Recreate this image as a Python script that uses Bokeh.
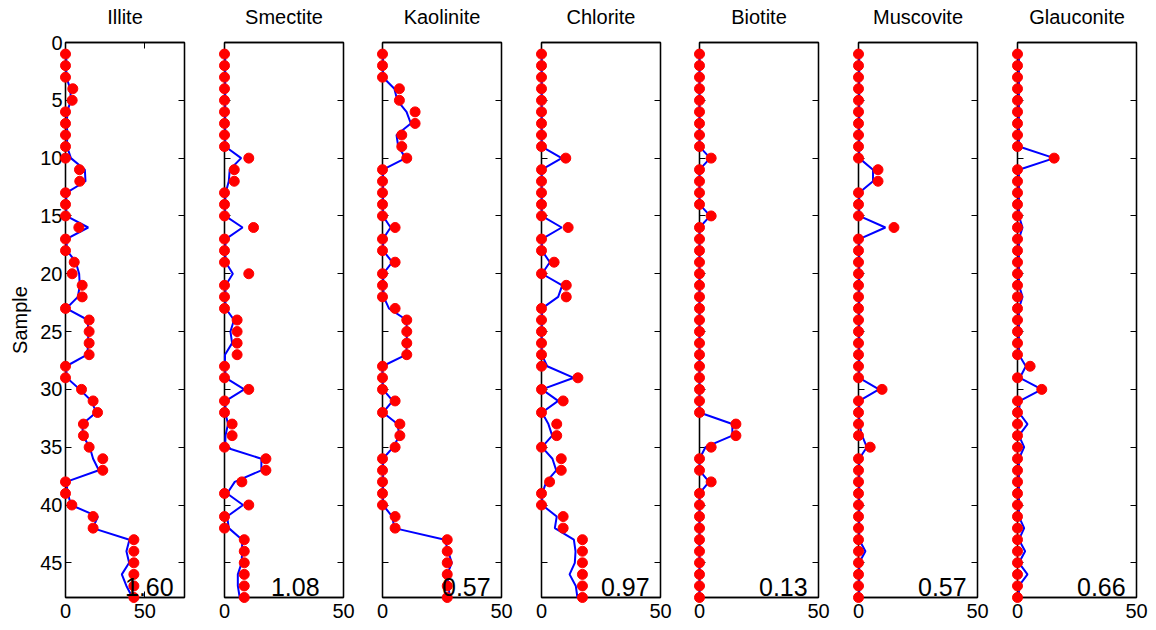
from bokeh.plotting import figure
from bokeh.layouts import row
from bokeh.models import Range1d, LinearAxis, FixedTicker
from bokeh.core.properties import value
from bokeh.embed import file_html
from bokeh.resources import INLINE

# ---------------- data ----------------
samples = list(range(1, 49))
minerals = ["Illite", "Smectite", "Kaolinite", "Chlorite", "Biotite", "Muscovite", "Glauconite"]
fit_stats = ["1.60", "1.08", "0.57", "0.97", "0.13", "0.57", "0.66"]
x_max = [75, 50, 50, 50, 50, 50, 50]
x_ticks = [0, 50]
y_ticks = [0, 5, 10, 15, 20, 25, 30, 35, 40, 45]

illite_obs = [0, 0, 0, 4.6, 4.2, 0, 0, 0, 0, 0,
              8.8, 9.0, 0, 0, 0, 8.4, 0, 0, 5.5, 4.2,
              10.5, 10.5, 0, 14.9, 14.9, 14.9, 14.9, 0, 0, 10.1,
              17.4, 20.2, 11.3, 11.3, 14.9, 23.5, 23.5, 0, 0, 4.0,
              17.4, 17.4, 43.1, 43.1, 43.1, 43.1, 43.1, 43.1]
illite_fit = [0.5, 0.5, 0.5, 3.0, 3.4, 1.0, 1.0, 1.0, 1.0, 3.4,
              12.2, 12.6, 0.5, 0.5, 0.5, 14.3, 0.5, 1.0, 6.5, 8.6,
              9.0, 7.8, 0.5, 14.1, 14.3, 14.3, 13.7, 0.4, 0.8, 9.0,
              16.4, 19.3, 10.7, 10.9, 15.3, 17.4, 21.0, 0.4, 1.5, 3.4,
              20.4, 17.2, 40.3, 38.4, 40.1, 35.5, 38.4, 42.2]

smectite_obs = [0, 0, 0, 0, 0, 0, 0, 0, 0, 10.2,
                4.1, 4.1, 0, 0, 0, 12.2, 0, 0, 0, 10.2,
                0, 0, 0, 5.3, 5.3, 5.3, 5.3, 0, 0, 10.2,
                0, 0, 3.2, 3.2, 0, 17.4, 17.4, 7.3, 0, 10.2,
                0, 0, 8.3, 8.3, 8.3, 8.3, 8.3, 8.3]
smectite_fit = [0.3, 0.3, 0.3, 0.3, 0.3, 0.3, 0.3, 0.3, 0.3, 7.0,
                2.2, 1.8, 0.5, 0.2, 0.3, 7.6, 0.5, 0.3, 0.5, 3.5,
                0.5, 0.3, 0.5, 4.0, 2.5, 3.2, 0.2, 0.2, 0.5, 8.3,
                0.5, 0.3, 1.5, 0.4, 0.3, 15.5, 15.5, 4.3, 1.1, 7.8,
                1.1, 1.8, 7.4, 7.4, 7.2, 5.6, 5.6, 6.4]

kaolinite_obs = [0, 0, 0, 7.1, 7.1, 13.7, 13.7, 8.1, 8.1, 10.2,
                 0, 0, 0, 0, 0, 5.3, 0, 0, 5.3, 0,
                 0, 0, 5.3, 10.2, 10.2, 10.2, 10.2, 0, 0, 0,
                 5.3, 0, 7.3, 7.3, 5.3, 0, 0, 0, 0, 0,
                 5.3, 5.3, 27.2, 27.2, 27.2, 27.2, 27.2, 27.2]
kaolinite_fit = [0.2, 0.2, 0.2, 5.0, 6.2, 10.1, 11.9, 5.9, 6.6, 9.7,
                 0.2, 0.2, 0.2, 0.2, 0.2, 3.4, 0.2, 0.3, 4.1, 0.3,
                 0.3, 0.5, 2.7, 10.1, 10.2, 10.2, 10.0, 0.0, 0.0, 0.2,
                 4.3, 0.2, 6.3, 7.1, 4.5, 0.2, 0.2, 0.2, 0.2, 0.2,
                 4.1, 5.0, 26.2, 27.6, 29.1, 27.2, 27.7, 28.3]

chlorite_obs = [0, 0, 0, 0, 0, 0, 0, 0, 0, 10.2,
                0, 0, 0, 0, 0, 11.2, 0, 0, 5.3, 0,
                10.4, 10.4, 0, 0, 0, 0, 0, 0, 15.3, 0,
                9.1, 0, 6.4, 6.4, 0, 8.3, 8.3, 3.4, 0, 0,
                9.1, 9.1, 17.2, 17.2, 17.2, 17.2, 17.2, 17.2]
chlorite_fit = [0.1, 0.1, 0.1, 0.1, 0.1, 0.1, 0.1, 0.1, 0.1, 8.5,
                0.1, 0.1, 0.1, 0.1, 0.1, 8.5, 0.1, 0.2, 3.5, 0.2,
                8.7, 7.0, 0.2, 0.2, 0.1, 0.1, 0.1, 2.4, 13.6, 0.2,
                7.0, 0.2, 2.9, 4.5, 0.2, 4.6, 6.2, 2.0, 0.3, 0.3,
                6.4, 5.6, 13.6, 14.3, 14.0, 11.8, 14.4, 15.1]

biotite_obs = [0, 0, 0, 0, 0, 0, 0, 0, 0, 4.9,
               0, 0, 0, 0, 4.9, 0, 0, 0, 0, 0,
               0, 0, 0, 0, 0, 0, 0, 0, 0, 0,
               0, 0, 15.3, 15.3, 4.9, 0, 0, 4.9, 0, 0,
               0, 0, 0, 0, 0, 0, 0, 0]
biotite_fit = [0, 0, 0, 0, 0, 0, 0, 0, 0, 4.5,
               0, 0, 0, 0, 4.5, 0, 0, 0, 0, 0,
               0, 0, 0, 0, 0, 0, 0, 0, 0, 0,
               0, 0, 13.8, 13.8, 2.5, 0, 0, 4.0, 0, 0,
               0, 0, 0, 0, 0, 0, 0, 0]

muscovite_obs = [0, 0, 0, 0, 0, 0, 0, 0, 0, 0,
                 8.2, 8.2, 0, 0, 0, 14.9, 0, 0, 0, 0,
                 0, 0, 0, 0, 0, 0, 0, 0, 0, 9.9,
                 0, 0, 0, 0, 4.9, 0, 0, 0, 0, 0,
                 0, 0, 0, 0, 0, 0, 0, 0]
muscovite_fit = [0.3, 0.3, 0.3, 0.3, 0.3, 0.3, 0.3, 0.3, 0.3, 0.3,
                 6.1, 6.1, 0.3, 0.3, 0.3, 11.3, 0.3, 0.3, 0.3, 0.3,
                 0.3, 0.3, 0.3, 0.3, 0.3, 0.3, 0.3, 0.3, 0.3, 8.6,
                 0.3, 0.3, 0.3, 1.5, 3.5, 0.3, 0.3, 0.3, 0.3, 0.3,
                 0.3, 0.3, 0.3, 2.9, 0.3, 0.3, 0.3, 0.3]

glauconite_obs = [0, 0, 0, 0, 0, 0, 0, 0, 0, 15.4,
                  0, 0, 0, 0, 0, 0, 0, 0, 0, 0,
                  0, 0, 0, 0, 0, 0, 0, 5.3, 0, 10.2,
                  0, 0, 0, 0, 0, 0, 0, 0, 0, 0,
                  0, 0, 0, 0, 0, 0, 0, 0]
glauconite_fit = [0.6, 0.6, 0.6, 0.6, 0.6, 0.6, 0.6, 0.6, 0.6, 15.4,
                  0.6, 0.6, 0.6, 0.6, 0.6, 2.1, 0.6, 0.6, 0.6, 0.6,
                  0.6, 2.1, 0.6, 0.6, 0.6, 0.6, 0.6, 3.5, 1.0, 10.2,
                  1.0, 0.6, 4.2, 0.6, 2.8, 0.6, 0.6, 0.6, 0.6, 0.6,
                  0.6, 2.8, 0.6, 3.2, 0.6, 4.2, 0.6, 0.6]

observed = [illite_obs, smectite_obs, kaolinite_obs, chlorite_obs,
            biotite_obs, muscovite_obs, glauconite_obs]
fitted = [illite_fit, smectite_fit, kaolinite_fit, chlorite_fit,
          biotite_fit, muscovite_fit, glauconite_fit]

# ---------------- layout ----------------
FONT = "Liberation Sans"
FRAME_W, FRAME_H = 119, 555
TOP, BOTTOM = 42, 33
lefts = [round(65 + i * 158.6) for i in range(7)]
stat_x = [37.5, 19.5, 25, 25, 25, 25, 25]


def style_axis(ax, show_labels):
    ax.major_tick_in = 6
    ax.major_tick_out = 0
    ax.minor_tick_in = 0
    ax.minor_tick_out = 0
    ax.axis_line_color = "black"
    ax.axis_line_width = 1.3
    ax.major_tick_line_color = "black"
    ax.major_tick_line_width = 1
    ax.major_label_text_font = FONT
    if show_labels:
        ax.major_label_text_font_size = "20px"
        ax.major_label_text_color = "black"
    else:
        ax.major_label_text_font_size = "1px"
        ax.major_label_text_color = None
        ax.major_label_standoff = 0


figs = []
for i, name in enumerate(minerals):
    br = 20 if i < 6 else 1156 - (lefts[6] + FRAME_W)
    bl = 65 if i == 0 else lefts[i] - lefts[i - 1] - FRAME_W - 20
    p = figure(frame_width=FRAME_W, frame_height=FRAME_H,
               min_border_left=bl, min_border_right=br,
               min_border_top=TOP, min_border_bottom=BOTTOM,
               x_range=Range1d(0, x_max[i]), y_range=Range1d(48, 0),
               output_backend="svg", toolbar_location=None)
    p.xgrid.visible = False
    p.ygrid.visible = False
    p.outline_line_color = "black"
    p.outline_line_alpha = 1
    p.outline_line_width = 1.3
    p.background_fill_color = "white"
    p.border_fill_color = "white"

    p.xaxis.ticker = FixedTicker(ticks=x_ticks)
    p.yaxis.ticker = FixedTicker(ticks=y_ticks)
    for ax in p.xaxis:
        style_axis(ax, True)
        ax.major_label_standoff = 6
    for ax in p.yaxis:
        style_axis(ax, i == 0)
        if i == 0:
            ax.major_label_standoff = 3
            ax.axis_label = "Sample"
            ax.axis_label_text_font = FONT
            ax.axis_label_text_font_size = "20px"
            ax.axis_label_text_font_style = "normal"
            ax.axis_label_text_color = "black"
            ax.axis_label_standoff = 6

    right_ax = LinearAxis(ticker=FixedTicker(ticks=y_ticks))
    style_axis(right_ax, False)
    p.add_layout(right_ax, "right")
    top_ax = LinearAxis(ticker=FixedTicker(ticks=x_ticks))
    style_axis(top_ax, False)
    p.add_layout(top_ax, "above")

    p.line(fitted[i], samples, line_color="#0000FF", line_width=2, level="overlay")
    p.scatter(observed[i], samples, size=10, fill_color="#FF0000",
              line_color="#FF0000", level="overlay")

    # panel title, centred above the frame
    p.text(x=[x_max[i] / 2], y=[0], text=[name], text_font=value(FONT),
           text_font_size="20px", text_color="black",
           text_align="center", text_baseline="middle", y_offset=-26,
           level="overlay")
    # fit statistic in the lower right corner
    p.text(x=[stat_x[i]], y=[48], text=[fit_stats[i]], text_font=value(FONT),
           text_font_size="25px", text_color="black",
           text_align="left", text_baseline="middle", y_offset=-11,
           level="overlay")
    figs.append(p)

layout = row(*figs, spacing=0)
open("out.html", "w").write(file_html(layout, INLINE))
